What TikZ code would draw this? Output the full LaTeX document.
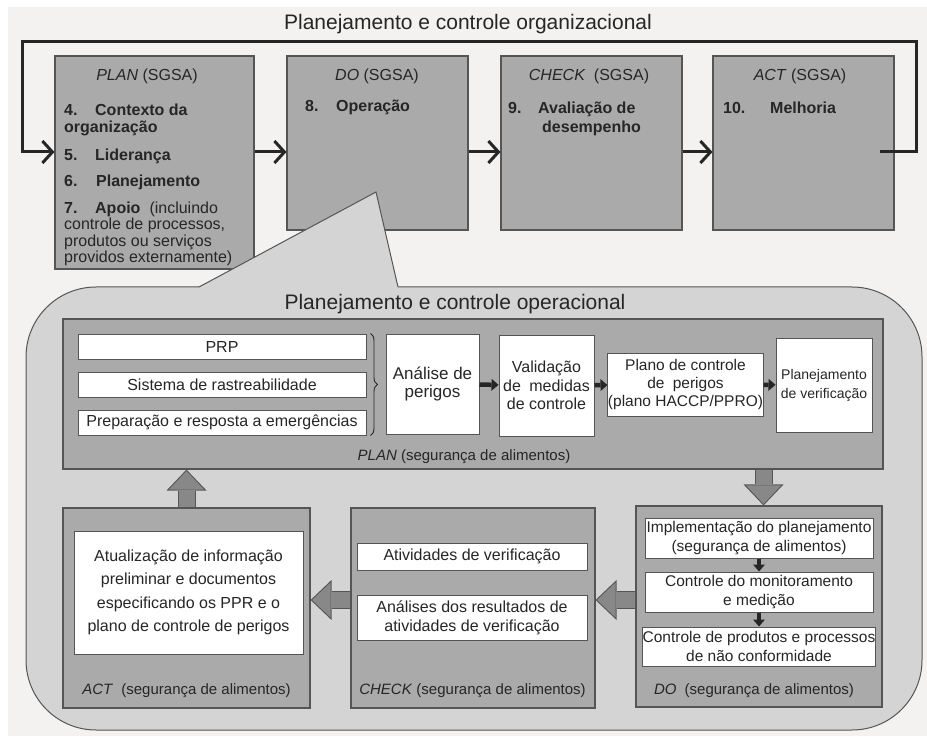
\documentclass[tikz,border=0pt]{standalone}
\usepackage{fontspec}
\setmainfont{Liberation Sans}
\usetikzlibrary{arrows.meta,decorations.pathreplacing}

\definecolor{paper}{HTML}{F3F2F0}
\definecolor{boxgray}{HTML}{AAAAAA}
\definecolor{calloutgray}{HTML}{D4D4D4}
\definecolor{edgegray}{HTML}{555555}
\definecolor{arrowgray}{HTML}{888888}
\definecolor{inkgray}{HTML}{262626}

\begin{document}
\begin{tikzpicture}[x=1pt,y=-1pt,
  every node/.style={text=inkgray, inner sep=0pt},
  stage/.style={draw=edgegray, line width=1.1pt, fill=boxgray},
  whitebox/.style={draw=edgegray, line width=1pt, fill=white, align=center,
    font=\fontsize{16}{18.5}\selectfont},
  body/.style={font=\fontsize{16}{17}\selectfont},
  bodybold/.style={font=\bfseries\fontsize{16}{17}\selectfont},
  tagline/.style={font=\fontsize{15}{17}\selectfont, anchor=base},
  flow/.style={line width=3pt, draw=black!85, line join=miter,
    -{Straight Barb[length=10pt,width=22pt]}},
  smallflow/.style={line width=4.5pt, draw=black!85,
    -{Triangle[length=7pt,width=12pt,line width=0pt]}},
  blockedge/.style={line width=18pt, draw=edgegray,
    -{Triangle[length=21pt,width=40pt,line width=0pt]}},
  blockfill/.style={line width=16pt, draw=arrowgray, shorten >=1.5pt,
    -{Triangle[length=18.5pt,width=35pt,line width=0pt]}}]

  % background
  \fill[white] (0,0) rectangle (927,738);
  \fill[paper] (8,7) rectangle (927,736);

  \node[font=\fontsize{21}{24}\selectfont, anchor=base] (orgtitle) at (468,30)
    {Planejamento e controle organizacional};

  % SGSA cycle
  \node[stage, minimum width=199pt, minimum height=213pt] (plansg) at (154.5,162.5) {};
  \node[stage, minimum width=181pt, minimum height=174pt] (dosg) at (377.5,143) {};
  \node[stage, minimum width=181pt, minimum height=174pt] (checksg) at (591.5,143) {};
  \node[stage, minimum width=181pt, minimum height=174pt] (actsg) at (803.5,143) {};

  \node[body, anchor=base] (planhead) at (147,81) {\textit{PLAN} (SGSA)};
  \node[bodybold, anchor=base west] (planfour) at (64,116) {\makebox[31pt][l]{4.}Contexto da};
  \node[bodybold, anchor=base west] (planfourb) at (64,133) {organização};
  \node[bodybold, anchor=base west] (planfive) at (64,161) {\makebox[31pt][l]{5.}Liderança};
  \node[bodybold, anchor=base west] (plansix) at (64,187) {\makebox[32pt][l]{6.}Planejamento};
  \node[body, anchor=base west] (planseven) at (64,214)
    {\textbf{\makebox[31pt][l]{7.}Apoio}\hspace{9pt}(incluindo};
  \node[body, anchor=base west] (plansevenb) at (64,230) {controle de processos,};
  \node[body, anchor=base west] (plansevenc) at (64,247) {produtos ou serviços};
  \node[body, anchor=base west] (plansevend) at (64,263) {providos externamente)};

  \node[body, anchor=base] (dohead) at (377,81) {\textit{DO} (SGSA)};
  \node[bodybold, anchor=base west] (doeight) at (305,112) {\makebox[31pt][l]{8.}Operação};

  \node[body, anchor=base] (checkhead) at (589,81) {\textit{CHECK}\hspace{4pt} (SGSA)};
  \node[bodybold, anchor=base west] (checknine) at (508,114) {\makebox[30pt][l]{9.}Avaliação de};
  \node[bodybold, anchor=base west] (checkonineb) at (542,133) {desempenho};

  \node[body, anchor=base] (acthead) at (800,81) {\textit{ACT} (SGSA)};
  \node[bodybold, anchor=base west] (actten) at (723,114) {\makebox[47pt][l]{10.}Melhoria};

  \coordinate (cyclerow) at (0,152);
  \coordinate (loopstart) at (880,152);
  \draw[flow] (plansg.east |- cyclerow) -- (dosg.west |- cyclerow);
  \draw[flow] (dosg.east |- cyclerow) -- (checksg.west |- cyclerow);
  \draw[flow] (checksg.east |- cyclerow) -- (actsg.west |- cyclerow);
  \draw[flow] (loopstart) -- (916,152) -- (916,42) -- (22,42) -- (22,152)
    -- (plansg.west |- cyclerow);

  % operational callout
  \node[draw=edgegray, line width=1pt, fill=calloutgray, rounded corners=70pt,
    minimum width=896pt, minimum height=443pt] (opcallout) at (474,508.5) {};
  \coordinate (wedgeleft) at (199,287);
  \coordinate (wedgetip) at (376,192);
  \coordinate (wedgeright) at (398,287);
  \fill[calloutgray] (wedgeleft) -- (wedgetip) -- (wedgeright) -- ++(0,2)
    -- ([yshift=-2pt]wedgeleft) -- cycle;
  \draw[edgegray, line width=1pt, line join=miter] (wedgeleft) -- (wedgetip) -- (wedgeright);

  \node[font=\fontsize{21}{24}\selectfont, anchor=base] (optitle) at (455,309)
    {Planejamento e controle operacional};

  % PLAN (food safety)
  \node[stage, minimum width=820pt, minimum height=150pt] (planfs) at (473,394) {};
  \node[whitebox, minimum width=288pt, minimum height=25pt] (prp) at (222,346.5) {PRP};
  \node[whitebox, minimum width=288pt, minimum height=25pt] (trace) at (222,384.5)
    {Sistema de rastreabilidade};
  \node[whitebox, minimum width=288pt, minimum height=25pt] (emerg) at (222,422.5)
    {Preparação e resposta a emergências};
  \draw[decorate, decoration={brace, amplitude=7pt}, line width=0.9pt, black!85]
    ([xshift=4pt]prp.north east) -- ([xshift=4pt]emerg.south east);
  \node[whitebox, font=\fontsize{17}{18}\selectfont, minimum width=93pt, minimum height=100pt]
    (hazard) at (432.5,384) {Análise de\\perigos};
  \node[whitebox, minimum width=95pt, minimum height=101pt] (validate) at (546.5,385.5)
    {Validação\\de\hspace{4pt} medidas\\de controle};
  \node[whitebox, font=\fontsize{15.5}{18}\selectfont, minimum width=147pt, minimum height=63pt]
    (hazplan) at (685.5,384.5) {Plano de controle\\de\hspace{4pt} perigos\\(plano HACCP/PPRO)};
  \node[whitebox, font=\fontsize{14}{19}\selectfont, minimum width=96pt, minimum height=94pt]
    (verplan) at (824,385) {Planejamento\\de verificação};
  \draw[smallflow] (hazard) -- (validate);
  \draw[smallflow] (validate) -- (hazplan);
  \draw[smallflow] (hazplan) -- (verplan);
  \node[tagline] (plantag) at (464,460) {\textit{PLAN} (segurança de alimentos)};

  % ACT (food safety)
  \node[stage, minimum width=247pt, minimum height=200pt] (actfs) at (186.5,608) {};
  \node[whitebox, font=\fontsize{16}{23.3}\selectfont, minimum width=229pt, minimum height=123pt]
    (update) at (188.5,592.5)
    {Atualização de informação\\preliminar e documentos\\especificando os PPR e o\\plano de controle de perigos};
  \node[tagline] (acttag) at (186.5,694) {\textit{ACT}\hspace{4pt} (segurança de alimentos)};

  % CHECK (food safety)
  \node[stage, minimum width=244pt, minimum height=200pt] (checkfs) at (473,608) {};
  \node[whitebox, minimum width=230pt, minimum height=27pt] (verify) at (472,556.5)
    {Atividades de verificação};
  \node[whitebox, font=\fontsize{16}{19}\selectfont, minimum width=230pt, minimum height=45pt]
    (review) at (472,617.5) {Análises dos resultados de\\atividades de verificação};
  \node[tagline] (checktag) at (472.5,694) {\textit{CHECK} (segurança de alimentos)};

  % DO (food safety)
  \node[stage, minimum width=246pt, minimum height=201pt] (dofs) at (759,606.5) {};
  \node[whitebox, font=\fontsize{15.5}{19}\selectfont, minimum width=228pt, minimum height=40pt]
    (implement) at (759,538) {Implementação do planejamento\\(segurança de alimentos)};
  \node[whitebox, font=\fontsize{15.5}{19}\selectfont, minimum width=228pt, minimum height=40pt]
    (monitor) at (759,592) {Controle do monitoramento\\e medição};
  \node[whitebox, font=\fontsize{15.5}{19}\selectfont, minimum width=228pt, minimum height=39pt]
    (nonconf) at (759,646.5) {Controle de produtos e processos\\de não conformidade};
  \draw[smallflow] (implement) -- (monitor);
  \draw[smallflow] (monitor) -- (nonconf);
  \node[tagline] (dotag) at (754,694) {\textit{DO}\hspace{4pt} (segurança de alimentos)};

  % block arrows between phases
  \coordinate (lowrow) at (0,600);
  \draw[blockedge] (hazplan.east |- planfs.south) -- (hazplan.east |- dofs.north);
  \draw[blockfill] (hazplan.east |- planfs.south) -- (hazplan.east |- dofs.north);
  \draw[blockedge] (dofs.west |- lowrow) -- (checkfs.east |- lowrow);
  \draw[blockfill] (dofs.west |- lowrow) -- (checkfs.east |- lowrow);
  \draw[blockedge] (checkfs.west |- lowrow) -- (actfs.east |- lowrow);
  \draw[blockfill] (checkfs.west |- lowrow) -- (actfs.east |- lowrow);
  \draw[blockedge] (actfs.north) -- (actfs.north |- planfs.south);
  \draw[blockfill] (actfs.north) -- (actfs.north |- planfs.south);
\end{tikzpicture}
\end{document}
